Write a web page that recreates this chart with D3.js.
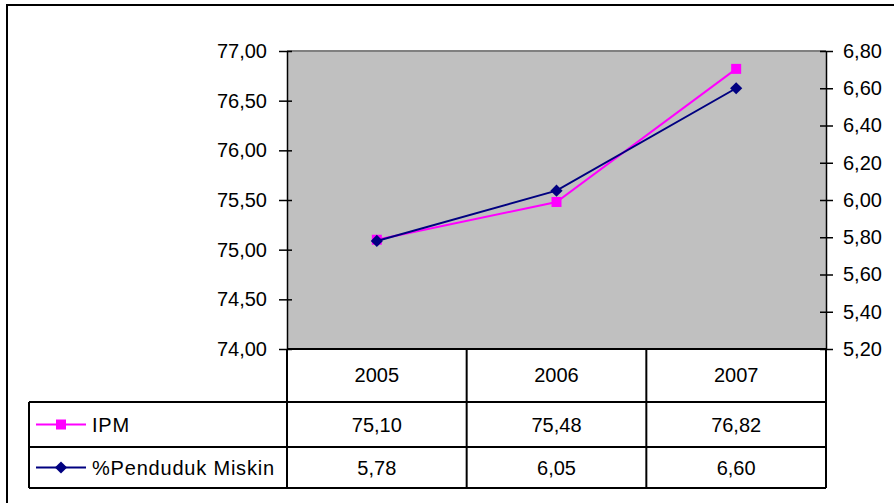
<!DOCTYPE html>
<html>
<head>
<meta charset="utf-8">
<script src="https://cdn.jsdelivr.net/npm/d3@7"></script>
<style>
  body { margin: 0; background: #fff; }
  svg text { font-family: "Liberation Sans", Arial, sans-serif; font-size: 20px; fill: #000; }
</style>
</head>
<body>
<div id="chart"></div>
<script>
// data
let years = ["2005", "2006", "2007"];
let ipm = [75.10, 75.48, 76.82];
let miskin = [5.78, 6.05, 6.60];
let seriesNames = ["IPM", "%Penduduk Miskin"];
let leftTicks = [74, 74.5, 75, 75.5, 76, 76.5, 77];
let rightTicks = [5.2, 5.4, 5.6, 5.8, 6.0, 6.2, 6.4, 6.6, 6.8];

let comma = (v) => d3.format(".2f")(v).replace(".", ",");

let draw = () => {
  var width = 894,
    height = 503,
    plot = { left: 287, right: 826, top: 51, bottom: 349 },
    tableLeft = 29,
    rowLines = [349, 402, 447, 488];

  var svg = d3
    .select("#chart")
    .append("svg")
    .attr("width", width)
    .attr("height", height);

  // outer frame
  svg
    .append("rect")
    .attr("x", 7)
    .attr("y", 5)
    .attr("width", 900)
    .attr("height", 520)
    .attr("fill", "none")
    .attr("stroke", "#000")
    .attr("stroke-width", 2);

  var Xaxis = d3.scaleBand().domain(years).range([plot.left, plot.right]),
    Yleft = d3.scaleLinear().domain([74, 77]).range([plot.bottom, plot.top]),
    Yright = d3.scaleLinear().domain([5.2, 6.8]).range([plot.bottom, plot.top]),
    cx = (d) => Xaxis(d) + Xaxis.bandwidth() / 2;

  // plot area
  svg
    .append("rect")
    .attr("x", plot.left)
    .attr("y", plot.top)
    .attr("width", plot.right - plot.left)
    .attr("height", plot.bottom - plot.top)
    .attr("fill", "#c0c0c0");
  svg
    .append("line")
    .attr("x1", plot.left)
    .attr("x2", plot.right)
    .attr("y1", plot.top)
    .attr("y2", plot.top)
    .attr("stroke", "#808080")
    .attr("stroke-width", 2);

  // axes
  var gl = svg
    .append("g")
    .attr("transform", `translate(${plot.left},0)`)
    .call(
      d3.axisLeft(Yleft).tickValues(leftTicks).tickFormat(comma)
        .tickSizeInner(8).tickSizeOuter(0).tickPadding(12)
    );
  gl.selectAll(".tick line").attr("x1", 5).attr("stroke-width", 1.5);
  gl.select(".domain").attr("stroke-width", 1.5);
  gl.selectAll("text").attr("font-size", 20).attr("fill", "#000");

  var gr = svg
    .append("g")
    .attr("transform", `translate(${plot.right},0)`)
    .call(
      d3.axisRight(Yright).tickValues(rightTicks).tickFormat(comma)
        .tickSizeInner(7).tickSizeOuter(0).tickPadding(10)
    );
  gr.selectAll(".tick line").attr("x1", -6).attr("stroke-width", 1.5);
  gr.select(".domain").attr("stroke-width", 1.5);
  gr.selectAll("text").attr("font-size", 20).attr("fill", "#000");

  // lines
  var lineL = d3.line().x((d, i) => cx(years[i])).y((d) => Yleft(d)),
    lineR = d3.line().x((d, i) => cx(years[i])).y((d) => Yright(d));

  svg
    .append("path")
    .attr("d", lineL(ipm))
    .attr("fill", "none")
    .attr("stroke", "#ff00ff")
    .attr("stroke-width", 2);
  svg
    .selectAll(".ipm")
    .data(ipm)
    .enter()
    .append("rect")
    .attr("x", (d, i) => cx(years[i]) - 5)
    .attr("y", (d) => Yleft(d) - 5)
    .attr("width", 10)
    .attr("height", 10)
    .attr("fill", "#ff00ff");

  svg
    .append("path")
    .attr("d", lineR(miskin))
    .attr("fill", "none")
    .attr("stroke", "#000080")
    .attr("stroke-width", 2);
  var diamond = d3.symbol().type(d3.symbolDiamond2).size(95);
  svg
    .selectAll(".miskin")
    .data(miskin)
    .enter()
    .append("path")
    .attr("d", diamond)
    .attr("transform", (d, i) => `translate(${cx(years[i])},${Yright(d)})`)
    .attr("fill", "#000080");

  // data table
  var tbl = svg.append("g").attr("stroke", "#000").attr("stroke-width", 2);
  tbl
    .append("line")
    .attr("x1", plot.left).attr("x2", plot.right)
    .attr("y1", rowLines[0]).attr("y2", rowLines[0]);
  rowLines.slice(1).forEach((y) => {
    tbl.append("line")
      .attr("x1", tableLeft).attr("x2", plot.right)
      .attr("y1", y).attr("y2", y);
  });
  tbl
    .append("line")
    .attr("x1", tableLeft).attr("x2", tableLeft)
    .attr("y1", rowLines[1]).attr("y2", rowLines[3]);
  years.forEach((yr) => {
    tbl.append("line")
      .attr("x1", Xaxis(yr)).attr("x2", Xaxis(yr))
      .attr("y1", rowLines[0]).attr("y2", rowLines[3]);
  });
  tbl
    .append("line")
    .attr("x1", plot.right).attr("x2", plot.right)
    .attr("y1", rowLines[0]).attr("y2", rowLines[3]);

  var rowMid = (k) => (rowLines[k] + rowLines[k + 1]) / 2;

  var cell = (x, y, t, anchor) =>
    svg
      .append("text")
      .attr("x", x)
      .attr("y", y)
      .attr("dy", "0.36em")
      .attr("text-anchor", anchor || "middle")
      .text(t);

  years.forEach((yr, i) => {
    cell(cx(yr), rowMid(0) - 1, yr);
    cell(cx(yr), rowMid(1), comma(ipm[i]));
    cell(cx(yr), rowMid(2), comma(miskin[i]));
  });

  // legend keys
  var keyX1 = 36, keyX2 = 86, keyMid = 61;
  [["#ff00ff", "sq"], ["#000080", "dia"]].forEach((k, i) => {
    var y = rowMid(i + 1);
    svg.append("line")
      .attr("x1", keyX1).attr("x2", keyX2)
      .attr("y1", y).attr("y2", y)
      .attr("stroke", k[0]).attr("stroke-width", 2);
    if (k[1] === "sq") {
      svg.append("rect")
        .attr("x", keyMid - 5).attr("y", y - 5)
        .attr("width", 10).attr("height", 10)
        .attr("fill", k[0]);
    } else {
      svg.append("path")
        .attr("d", diamond)
        .attr("transform", `translate(${keyMid},${y})`)
        .attr("fill", k[0]);
    }
    cell(92, y, seriesNames[i], "start").attr("letter-spacing", 0.8);
  });
};

draw();
</script>
</body>
</html>
